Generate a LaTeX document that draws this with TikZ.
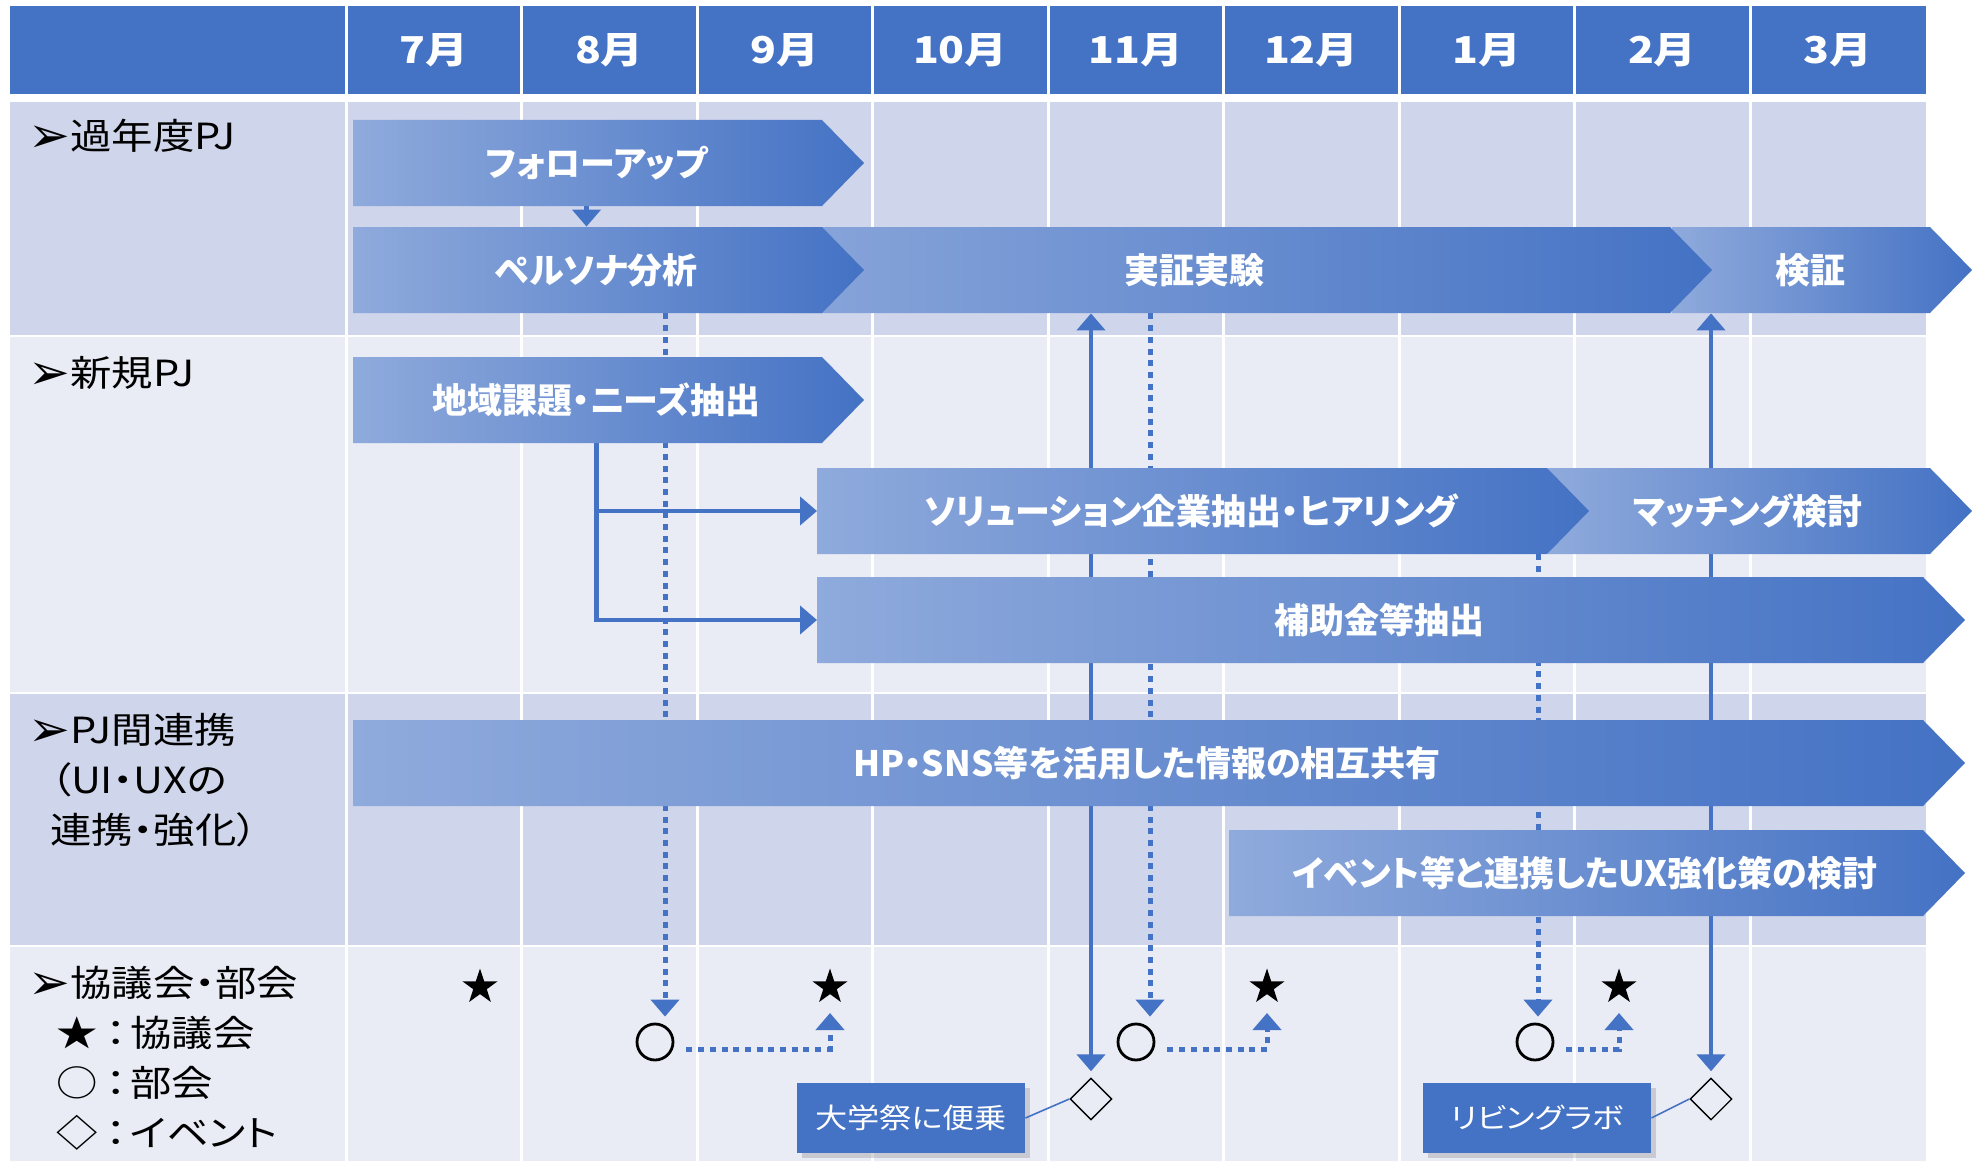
\documentclass[tikz,border=0pt]{standalone}
\usepackage{fontspec}
\setmainfont{Noto Sans CJK JP}[RawFeature=+palt]
\newfontfamily\widejp{Noto Sans CJK JP}[FakeStretch=1.15,RawFeature=+palt]
\newfontfamily\symfont{DejaVu Sans}
\usepackage{xcolor}
\usepackage{tikz}
\definecolor{hdrblue}{HTML}{4472C4}
\definecolor{rowdark}{HTML}{CFD5EA}
\definecolor{rowlight}{HTML}{E9EBF5}
\definecolor{barlight}{HTML}{8FAADC}
\newcommand*{\ganttbar}[5]{\shade[left color=barlight,right color=hdrblue](#2,#4-43)--(#3-42,#4-43)--(#3,#4)--(#3-42,#4+43)--(#2,#4+43)--cycle;\coordinate(#1-w)at(#2,#4);\node[bartext](#1)at({(#2+#3)/2-12},#4){#5};}
\newcommand*{\pointer}{\raisebox{-1.5pt}{\symfont\fontsize{25}{25}\selectfont ➢}}
\usetikzlibrary{arrows.meta}
\usetikzlibrary{shapes.geometric}
\usetikzlibrary{shadows}
\pgfdeclarelayer{back}
\pgfdeclarelayer{lines}
\pgfsetlayers{back,lines,main}

\begin{document}
\begin{tikzpicture}[x=0.5pt,y=-0.5pt,>={Triangle[width=14pt,length=8.5pt]},
  bartext/.style={text=white,font=\bfseries\fontsize{17.5}{20}\selectfont,inner sep=0pt,minimum height=43pt},
  monthlabel/.style={text=white,font=\widejp\bfseries\fontsize{18.5}{22}\selectfont},
  rowlabel/.style={anchor=west,align=left,inner sep=0pt,font=\widejp\fontsize{18}{25}\selectfont},
  conn/.style={hdrblue,line width=2.3pt},
  dotconn/.style={hdrblue,line width=2.5pt,dash pattern=on 3pt off 2.85pt},
  councilmark/.style={star,star points=5,star point ratio=2.6,fill=black,inner sep=0pt,minimum size=18.5pt},
  subcmark/.style={circle,draw=black,line width=1.4pt,inner sep=0pt,minimum size=18pt},
  eventmark/.style={diamond,draw=black,line width=0.7pt,inner sep=0pt,minimum size=21pt},
  callout/.style={fill=hdrblue,text=white,minimum width=114pt,minimum height=35pt,font=\widejp\fontsize{14}{16}\selectfont,drop shadow={opacity=0.3,shadow xshift=2.5pt,shadow yshift=-2.5pt}}]
\useasboundingbox(0,0)rectangle(1975,1161);

% table
\begin{pgfonlayer}{back}
\fill[hdrblue](10,6)rectangle(1926,94);
\fill[rowdark](10,102)rectangle(1926,335);
\fill[rowlight](10,337)rectangle(1926,692);
\fill[rowdark](10,694)rectangle(1926,945);
\fill[rowlight](10,947)rectangle(1926,1161);
\foreach\i in{0,...,8}\draw[white,line width=1.5pt]({346+175.5*\i},6)--({346+175.5*\i},1161);
\end{pgfonlayer}
\foreach\m[count=\i]in{7,8,9,10,11,12,1,2,3}\node[monthlabel](m\i)at({346+175.5*(\i-0.5)},50){\m 月};

\node[rowlabel](lbl1)at(28,136){\pointer 過年度PJ};
\node[rowlabel](lbl2)at(28,373){\pointer 新規PJ};
\node[rowlabel](lbl3)at(28,780){\pointer PJ間連携\\\hspace*{11pt}（UI・UXの\\\hspace*{11pt}連携・強化）};
\node[rowlabel](lbl4)at(28,1058){\pointer 協議会・部会\\\hspace*{14pt}★\hspace{4pt}：\hspace{2pt}協議会\\\hspace*{14pt}○\hspace{4pt}：\hspace{2pt}部会\\\hspace*{14pt}◇\hspace{4pt}：\hspace{2pt}イベント};

% bars
\ganttbar{follow}{353}{864}{163}{フォローアップ}
\ganttbar{kensho}{1672}{1972}{270}{検証}
\ganttbar{jissho}{700}{1712}{270}{実証実験}
\ganttbar{persona}{353}{864}{270}{ペルソナ分析}
\ganttbar{chiiki}{353}{864}{400}{地域課題・ニーズ抽出}
\ganttbar{matching}{1548}{1972}{511}{マッチング検討}
\ganttbar{solution}{817}{1589}{511}{ソリューション企業抽出・ヒアリング}
\ganttbar{hojokin}{817}{1965}{620}{補助金等抽出}
\ganttbar{hpsns}{353}{1965}{763}{HP・SNS等を活用した情報の相互共有}
\ganttbar{event}{1229}{1965}{873}{イベント等と連携したUX強化策の検討}

% meetings
\node[councilmark](s1)at(480,987){};
\node[councilmark](s2)at(830,987){};
\node[councilmark](s3)at(1267,987){};
\node[councilmark](s4)at(1619,987){};
\node[subcmark](c1)at(655,1042){};
\node[subcmark](c2)at(1136,1042){};
\node[subcmark](c3)at(1535,1042){};
\node[eventmark](d1)at(1091,1099){};
\node[eventmark](d2)at(1711,1099){};
\node[callout](uni)at(911,1118){大学祭に便乗};
\node[callout](lab)at(1537,1118){リビングラボ};

\begin{pgfonlayer}{lines}
\draw[conn,->]([xshift=-5pt]follow.south)--([xshift=-5pt]persona.north);
\draw[conn,->](chiiki.south)|-(solution-w);
\draw[conn,->](chiiki.south)|-(hojokin-w);
\draw[dotconn,->]([xshift=5pt]c1.north|-persona.south)--([xshift=5pt,yshift=3pt]c1.north);
\draw[dotconn,->]([xshift=7pt]c2.north|-jissho.south)--([xshift=7pt,yshift=3pt]c2.north);
\draw[dotconn,->]([xshift=1.5pt]c3.north|-solution.south)--([xshift=1.5pt,yshift=3pt]c3.north);
\draw[dotconn,->]([xshift=6pt,yshift=-3.5pt]c1.east)-|([yshift=-13pt]s2.center);
\draw[dotconn,->]([xshift=6pt,yshift=-3.5pt]c2.east)-|([yshift=-13pt]s3.center);
\draw[dotconn,->]([xshift=6pt,yshift=-3.5pt]c3.east)-|([yshift=-13pt]s4.center);
\draw[conn,<->](d1.north|-jissho.south)--([yshift=3pt]d1.north);
\draw[conn,<->](d2.north|-kensho.south)--([yshift=3pt]d2.north);
\end{pgfonlayer}
\draw[hdrblue,line width=0.8pt](uni.east)--(d1.west);
\draw[hdrblue,line width=0.8pt](lab.east)--(d2.west);

\end{tikzpicture}
\end{document}
